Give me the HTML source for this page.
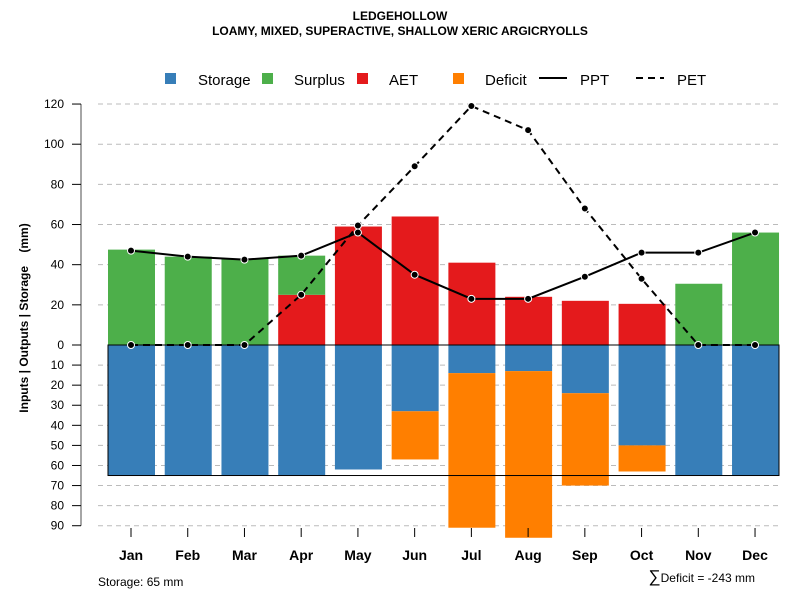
<!DOCTYPE html>
<html><head><meta charset="utf-8"><style>
body{margin:0;background:#fff}
svg text{font-family:"Liberation Sans",sans-serif}
</style></head><body>
<svg id="c" width="800" height="600" xmlns="http://www.w3.org/2000/svg">
<text x="400" y="20" text-anchor="middle" font-size="12" font-weight="bold">LEDGEHOLLOW</text>
<text x="400" y="35" text-anchor="middle" font-size="12" font-weight="bold">LOAMY, MIXED, SUPERACTIVE, SHALLOW XERIC ARGICRYOLLS</text>
<g id="grid"></g><g id="bars"></g><g id="lines"></g><g id="axes"></g>
<g font-size="15">
<rect x="165" y="73" width="11" height="11" fill="#377eb8"/><text x="198" y="85">Storage</text>
<rect x="262" y="73" width="11" height="11" fill="#4daf4a"/><text x="294" y="85">Surplus</text>
<rect x="357" y="73" width="11" height="11" fill="#e41a1c"/><text x="389" y="85">AET</text>
<rect x="453" y="73" width="11" height="11" fill="#ff7f00"/><text x="485" y="85">Deficit</text>
<line x1="539" y1="78" x2="567" y2="78" stroke="#000" stroke-width="2"/><text x="580" y="85">PPT</text>
<line x1="636" y1="78" x2="664" y2="78" stroke="#000" stroke-width="2" stroke-dasharray="7,5"/><text x="677" y="85">PET</text>
</g>
<text x="28" y="318" transform="rotate(-90 28 318)" text-anchor="middle" font-size="12" font-weight="bold" style="white-space:pre">Inputs | Outputs | Storage    (mm)</text>
<text x="98" y="586" font-size="12">Storage: 65 mm</text>
<text x="755" y="582" text-anchor="end" font-size="12"><tspan font-size="17">∑</tspan>Deficit = -243 mm</text>
</svg>
<script>
const months=["Jan","Feb","Mar","Apr","May","Jun","Jul","Aug","Sep","Oct","Nov","Dec"];
const ppt=[47,44,42.5,44.5,56,35,23,23,34,46,46,56];
const pet=[0,0,0,25,59.5,89,119,107,68,33,0,0];
const aet=[0,0,0,25,59,64,41,24,22,20.5,0,0];
const surplus=[47.5,44,43,19.5,0,0,0,0,0,0,30.5,56];
const storage=[65,65,65,65,62,33,14,13,24,50,65,65];
const deficit=[0,0,0,0,0,24,77,83,46,13,0,0];
const capacity=65;
const upTicks=[0,20,40,60,80,100,120];
const downTicks=[10,20,30,40,50,60,70,80,90];
const NS="http://www.w3.org/2000/svg";
const y0=345,k=2.008;
const yUp=v=>y0-v*k, yDn=v=>y0+v*k;
const xc=i=>131+i*56.73;
function mk(p,t,a){const e=document.createElementNS(NS,t);for(const n in a)e.setAttribute(n,a[n]);document.getElementById(p).appendChild(e);return e;}
upTicks.slice(1).forEach(v=>{const l=mk('grid','line',{x1:98,x2:779,y1:yUp(v),y2:yUp(v),stroke:'#bbb','stroke-dasharray':'5,4'});

});
downTicks.forEach(v=>{const l=mk('grid','line',{x1:98,x2:779,y1:yDn(v),y2:yDn(v),stroke:'#bbb','stroke-dasharray':'5,4'});

});
months.forEach((m,i)=>{const x=xc(i)-23,w=47;
 if(storage[i]>0){const r=mk('bars','rect',{x,y:y0,width:w,height:storage[i]*k,fill:'#377eb8'});
 
 }
 if(deficit[i]>0){const r=mk('bars','rect',{x,y:yDn(storage[i]),width:w,height:deficit[i]*k,fill:'#ff7f00'});
 
 }
 if(aet[i]>0){const r=mk('bars','rect',{x,y:yUp(aet[i]),width:w,height:aet[i]*k,fill:'#e41a1c'});
 
 }
 if(surplus[i]>0){const r=mk('bars','rect',{x,y:yUp(aet[i]+surplus[i]),width:w,height:surplus[i]*k,fill:'#4daf4a'});
 
 }
});
const cap2=mk('bars','rect',{x:108,y:y0,width:671,height:capacity*k,fill:'none',stroke:'#000'});


const pp=mk('lines','polyline',{points:ppt.map((v,i)=>xc(i)+','+yUp(v)).join(' '),fill:'none',stroke:'#000','stroke-width':2});


const pe=mk('lines','polyline',{points:pet.map((v,i)=>xc(i)+','+yUp(v)).join(' '),fill:'none',stroke:'#000','stroke-width':2,'stroke-dasharray':'7,5'});


[ppt,pet].forEach((s,j)=>s.forEach((v,i)=>{const c=mk('lines','circle',{cx:xc(i),cy:yUp(v),r:3.5,fill:'#000',stroke:'#fff','stroke-width':1});

}));
const ax=mk('axes','line',{x1:81,x2:81,y1:yUp(120),y2:yDn(90),stroke:'#888','stroke-width':1.5});


function tick(v,y){mk('axes','line',{x1:72,x2:81,y1:y,y2:y,stroke:'#000'});
 const t=mk('axes','text',{x:64,y:y+4,'text-anchor':'end','font-size':12});t.textContent=v;
 
 }
upTicks.forEach(v=>tick(v,yUp(v)));downTicks.forEach(v=>tick(v,yDn(v)));
months.forEach((m,i)=>{mk('axes','line',{x1:xc(i),x2:xc(i),y1:528,y2:537,stroke:'#000'});
 const t=mk('axes','text',{x:xc(i),y:560,'text-anchor':'middle','font-size':14,'font-weight':'bold'});t.textContent=m;
 
 });
</script>
</body></html>
